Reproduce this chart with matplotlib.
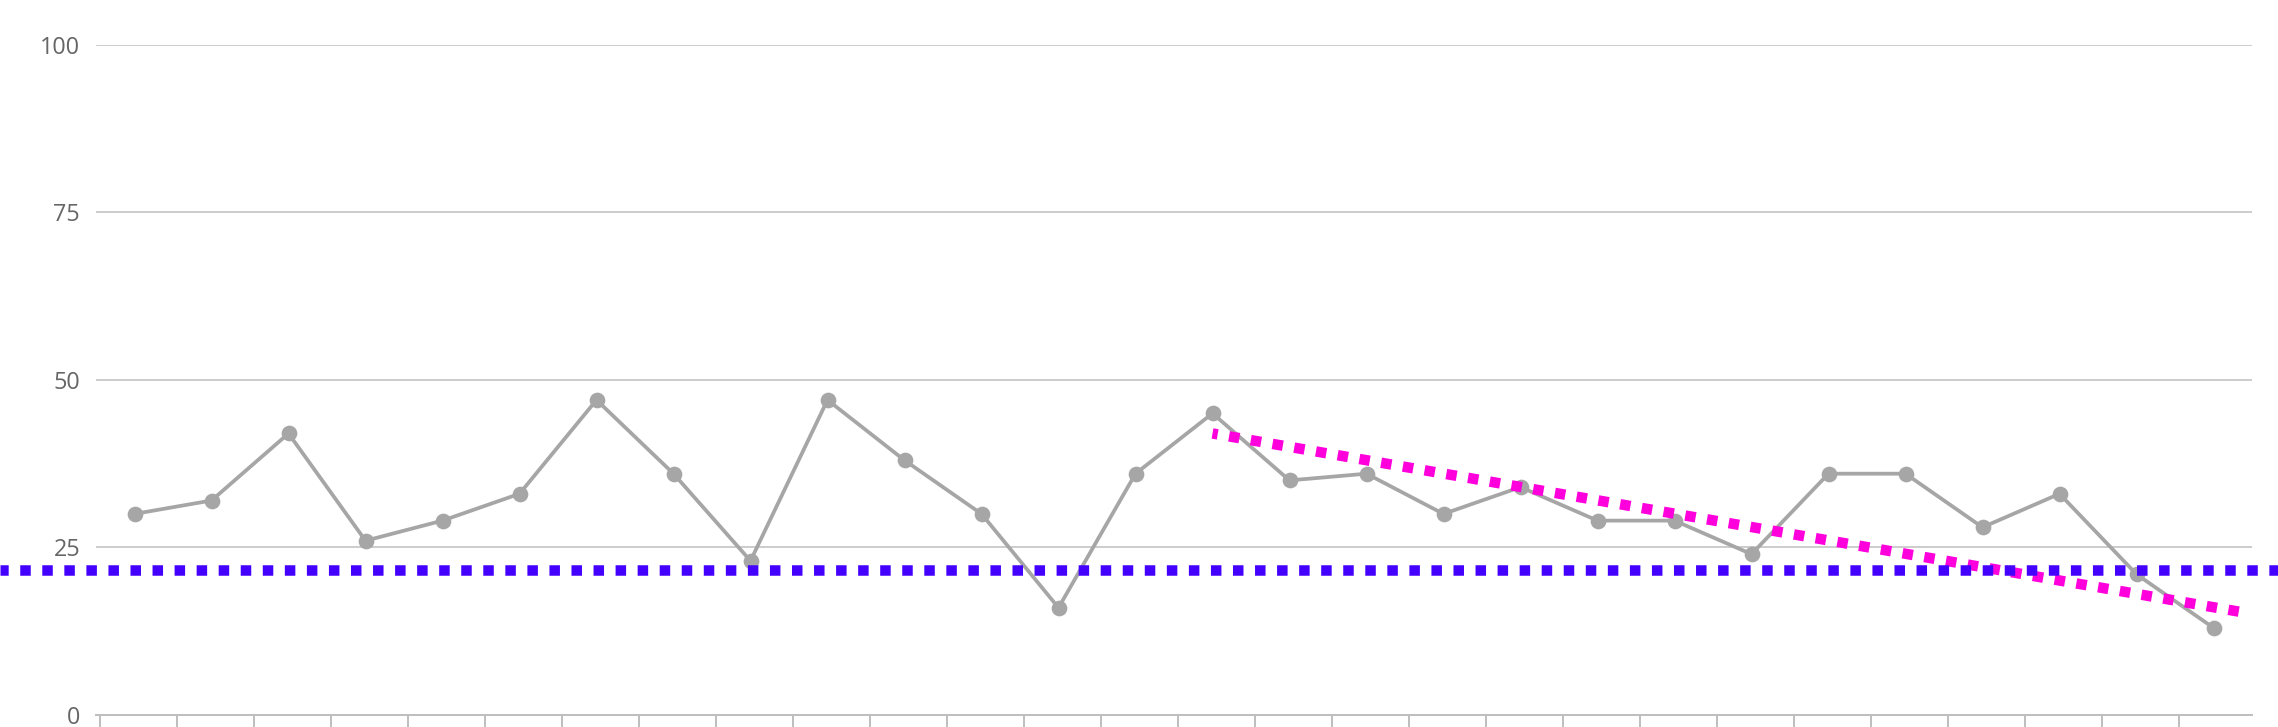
import matplotlib

matplotlib.use("Agg")

import matplotlib.pyplot as plt
import matplotlib.transforms as mtransforms

# values, one per category band
values = [30, 32, 42, 26, 29, 33, 47, 36, 23, 47, 38, 30, 16, 36,
          45, 35, 36, 30, 34, 29, 29, 24, 36, 36, 28, 33, 21, 13]
y_ticks = [0, 25, 50, 75, 100]
y_tick_labels = ["0", "25", "50", "75", "100"]

# dotted threshold line across the whole width
threshold = 21.7

# dotted trend line (start/end in category units)
trend_x = [14, 27.34]
trend_y = [42.0, 15.4]

_LINE_COLOR = "#a6a6a6"
_GRID_COLOR = "#cccccc"
_AXIS_COLOR = "#bfbfbf"
_TREND_COLOR = "#ff00dd"
_THRESH_COLOR = "#4400ff"

plt.rcParams["font.family"] = ["Open Sans", "DejaVu Sans"]

W, H, DPI = 2278, 727, 100
fig = plt.figure(figsize=(W / DPI, H / DPI), dpi=DPI)
ax = fig.add_axes([96 / W, 12 / H, (2252 - 96) / W, (715 - 44.7) / H])

x = list(range(len(values)))
ax.plot(x, values, color=_LINE_COLOR, linewidth=2.7, marker="o",
        markersize=11.3, markeredgewidth=0, zorder=3)

# square dots: ~10.5 px thick, ~22 px period
dot_lw = 7.56
ax.plot(trend_x, trend_y, color=_TREND_COLOR, linewidth=dot_lw,
        linestyle=(0.5, (1, 1.1)), dash_capstyle="butt", zorder=4)

full_width = mtransforms.blended_transform_factory(fig.transFigure, ax.transData)
ax.plot([0, 1], [threshold, threshold], color=_THRESH_COLOR, linewidth=dot_lw,
        linestyle=(0.22, (1, 1.1)), dash_capstyle="butt", transform=full_width,
        clip_on=False, zorder=5)

ax.set_xlim(-0.5, len(values) - 0.5)
ax.set_ylim(0, 100)

ax.set_yticks(y_ticks)
ax.set_yticklabels(y_tick_labels)
ax.yaxis.grid(True, color=_GRID_COLOR, linewidth=1.4)
ax.set_axisbelow(True)
ax.tick_params(axis="y", length=0, pad=11.5, labelsize=16.8, labelcolor="#666666")

ax.set_xticks([k - 0.45 for k in range(len(values))])
ax.set_xticklabels([])
ax.tick_params(axis="x", direction="out", length=8.6, width=1.44, color=_AXIS_COLOR)

for side in ("top", "right", "left"):
    ax.spines[side].set_visible(False)
ax.spines["bottom"].set_color(_AXIS_COLOR)
ax.spines["bottom"].set_linewidth(1.44)

fig.savefig("out.png", dpi=DPI, facecolor="white")
plt.close(fig)
